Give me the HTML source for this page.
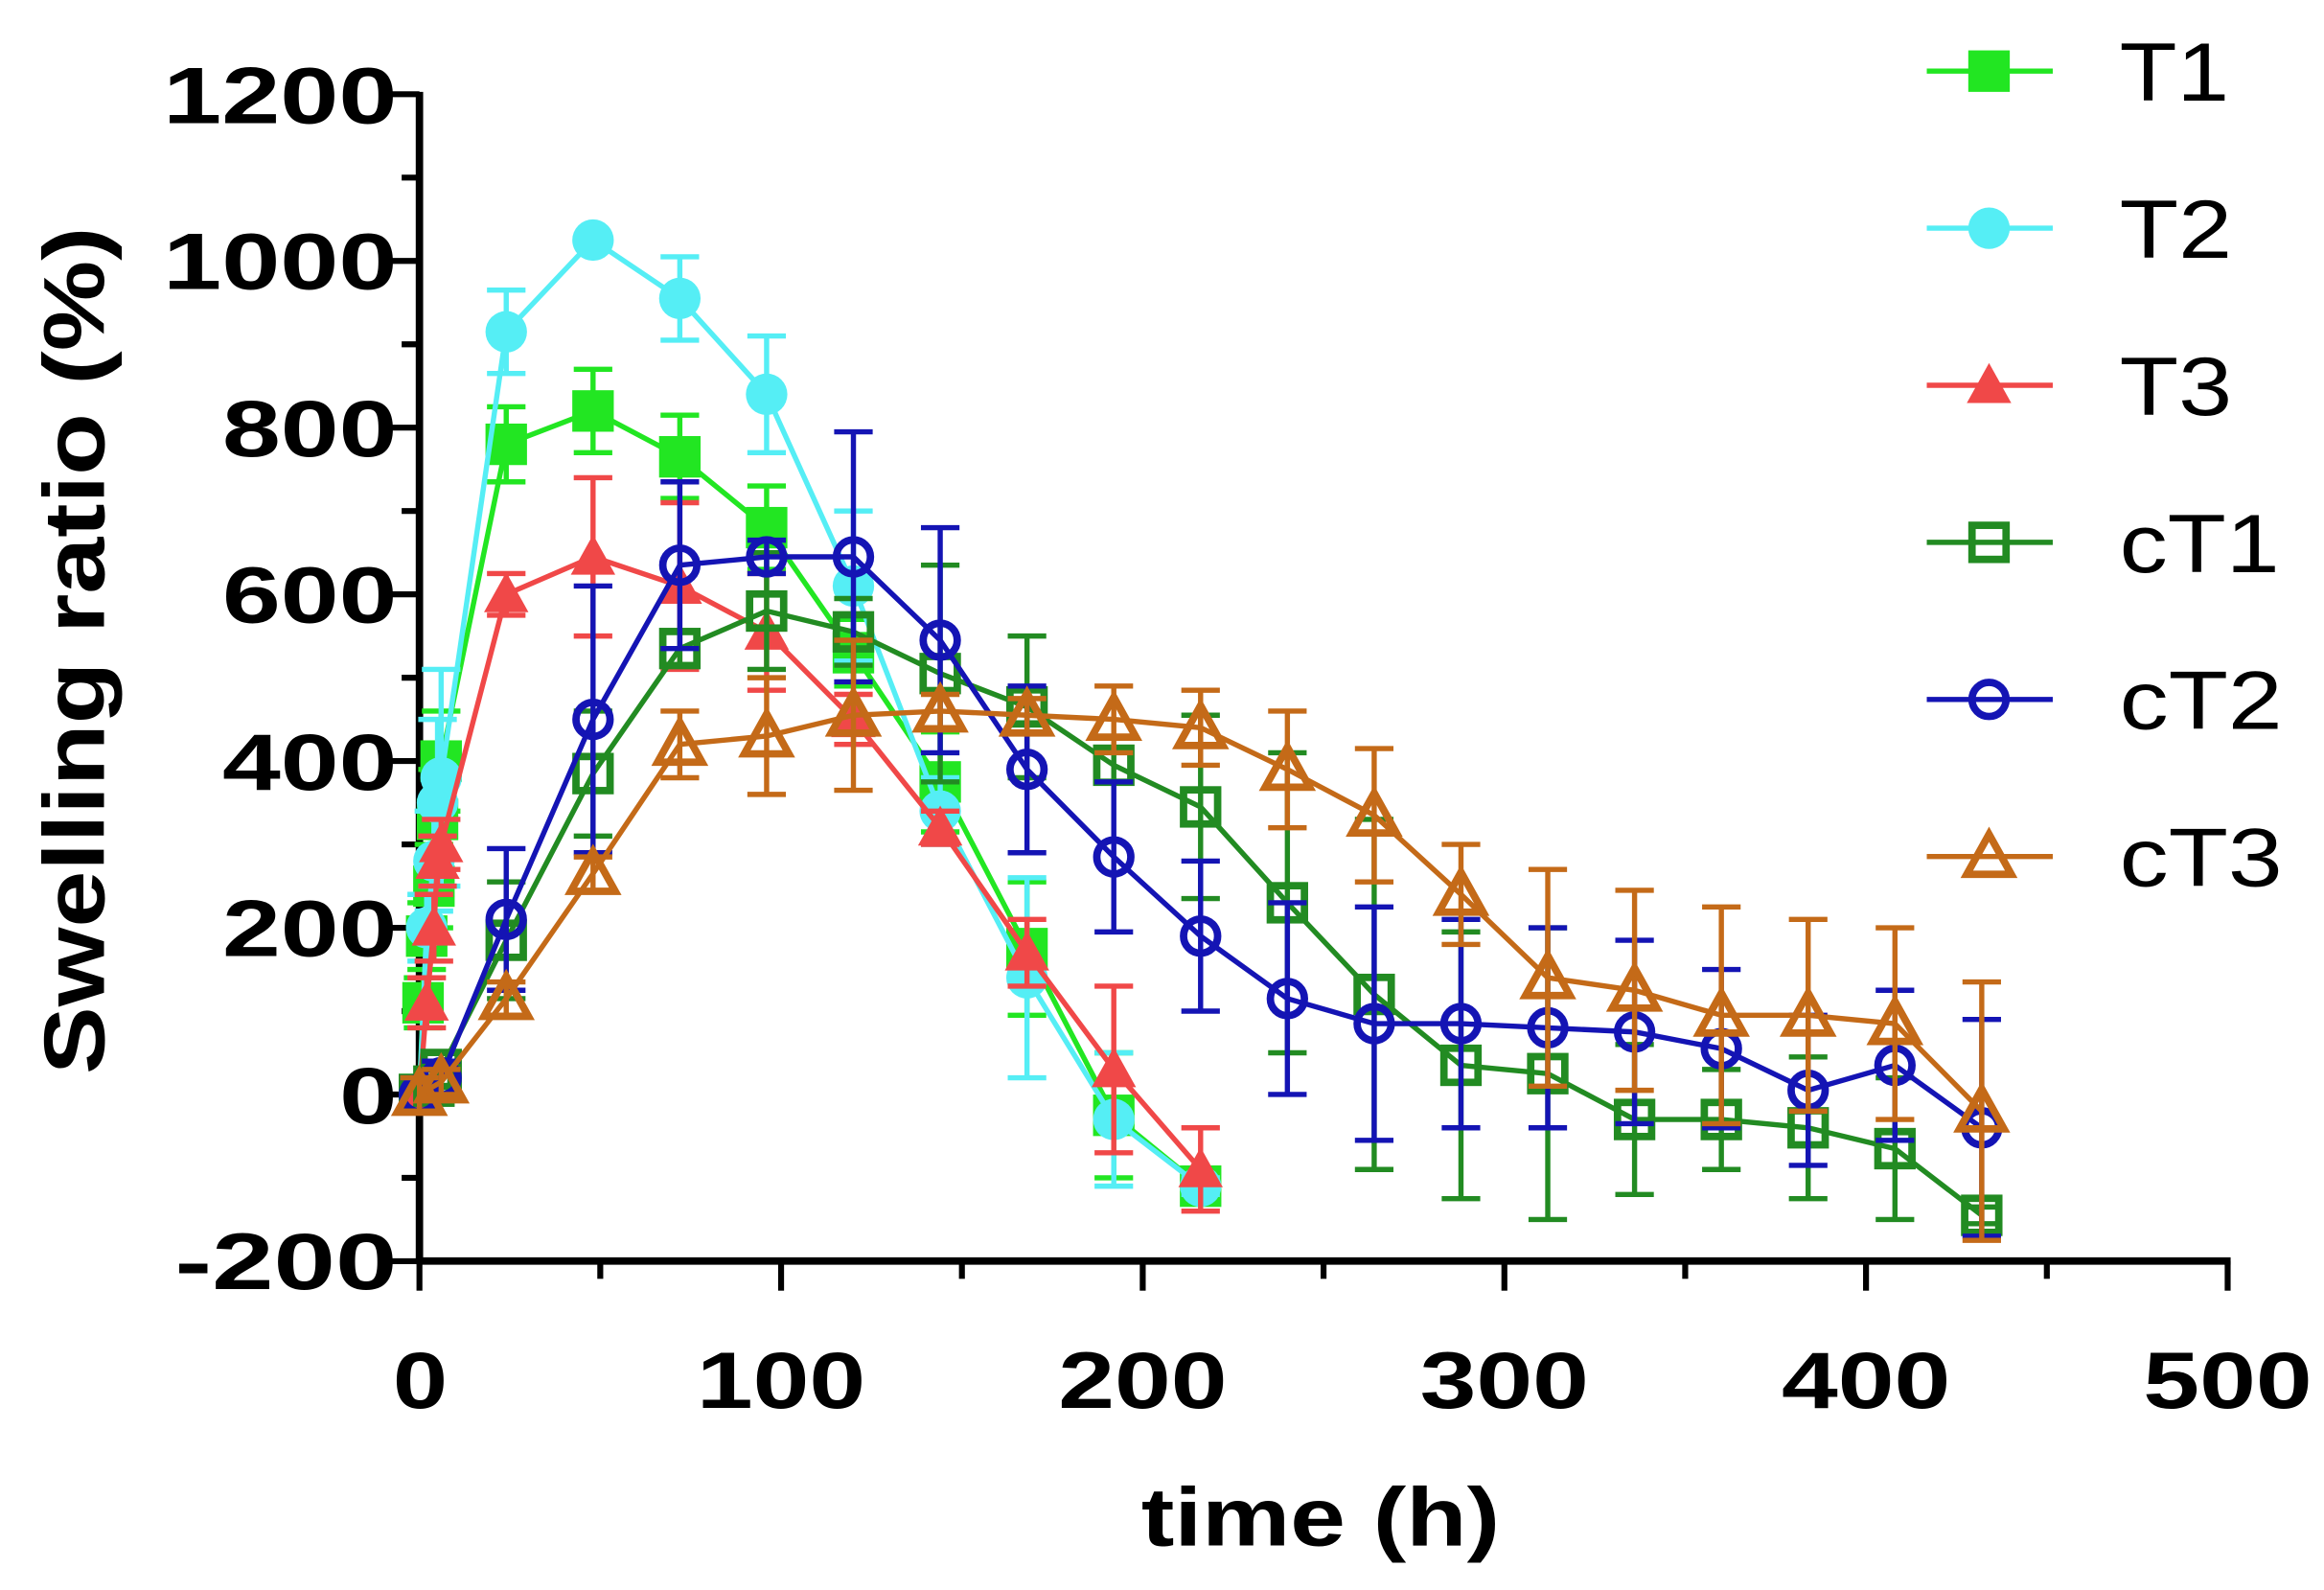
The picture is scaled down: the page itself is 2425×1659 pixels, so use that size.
<!DOCTYPE html>
<html><head><meta charset="utf-8"><style>
html,body{margin:0;padding:0;background:#fff;}
svg{display:block;}
text{font-family:"Liberation Sans",Arial,sans-serif;}
</style></head><body>
<svg id="s" width="2425" height="1659" viewBox="0 0 1568 1073" preserveAspectRatio="none" xmlns="http://www.w3.org/2000/svg">
<g id="axes" stroke="#000" stroke-width="5" fill="none">
<line x1="283" y1="62" x2="283" y2="853"/>
<line x1="281" y1="851" x2="1505" y2="851"/>
</g>
<g id="ticks" stroke="#000" stroke-width="4"></g>
<g font-weight="bold" font-size="54" fill="#000" lengthAdjust="spacingAndGlyphs">
<text x="110" y="83" textLength="158" lengthAdjust="spacingAndGlyphs">1200</text>
<text x="110" y="195" textLength="158" lengthAdjust="spacingAndGlyphs">1000</text>
<text x="150" y="308" textLength="118" lengthAdjust="spacingAndGlyphs">800</text>
<text x="150" y="420" textLength="118" lengthAdjust="spacingAndGlyphs">600</text>
<text x="150" y="533" textLength="118" lengthAdjust="spacingAndGlyphs">400</text>
<text x="150" y="645" textLength="118" lengthAdjust="spacingAndGlyphs">200</text>
<text x="229" y="758" textLength="39" lengthAdjust="spacingAndGlyphs">0</text>
<text x="118" y="870" textLength="150" lengthAdjust="spacingAndGlyphs">-200</text>
</g>
<g font-weight="bold" font-size="54" fill="#000">
<text x="265" y="950" textLength="37" lengthAdjust="spacingAndGlyphs">0</text>
<text x="470" y="950" textLength="114" lengthAdjust="spacingAndGlyphs">100</text>
<text x="714" y="950" textLength="114" lengthAdjust="spacingAndGlyphs">200</text>
<text x="958" y="950" textLength="114" lengthAdjust="spacingAndGlyphs">300</text>
<text x="1202" y="950" textLength="114" lengthAdjust="spacingAndGlyphs">400</text>
<text x="1446" y="950" textLength="114" lengthAdjust="spacingAndGlyphs">500</text>
<text x="770" y="1043" font-size="56" textLength="242" lengthAdjust="spacingAndGlyphs">time (h)</text>
<text transform="translate(70,725) rotate(-90)" font-size="58" textLength="572" lengthAdjust="spacingAndGlyphs">Swelling ratio (%)</text>
</g>
<g id="series"></g>
<g id="legend"></g>
<g font-size="56" fill="#000">
<text x="1430" y="68" textLength="74" lengthAdjust="spacingAndGlyphs">T1</text>
<text x="1430" y="174" textLength="76" lengthAdjust="spacingAndGlyphs">T2</text>
<text x="1430" y="280" textLength="76" lengthAdjust="spacingAndGlyphs">T3</text>
<text x="1430" y="386" textLength="108" lengthAdjust="spacingAndGlyphs">cT1</text>
<text x="1430" y="492" textLength="110" lengthAdjust="spacingAndGlyphs">cT2</text>
<text x="1430" y="598" textLength="110" lengthAdjust="spacingAndGlyphs">cT3</text>
</g>
</svg>
<script>
const NS="http://www.w3.org/2000/svg";
const X=t=>283+t*2.44, Y=v=>738.6-v*0.5625;
function el(p,n,a){const e=document.createElementNS(NS,n);for(const k in a)e.setAttribute(k,a[k]);p.appendChild(e);return e;}
const tk=document.getElementById('ticks');
for(let v=-200;v<=1200;v+=100){const L=(v%200==0)?20:12;el(tk,'line',{x1:283-L,y1:Y(v),x2:283,y2:Y(v)});}
for(let t=0;t<=500;t+=50){const L=(t%100==0)?20:12;el(tk,'line',{x1:X(t),y1:851,x2:X(t),y2:851+L});}
const S=[
{c:'#22e622',m:'sq',f:1,d:[[0,0,20],[1,110,30],[2,190,40],[4,250,50],[5,330,60],[6,400,60],[24,780,45],[48,820,50],[72,765,50],[96,680,50],[120,530,40],[144,375,60],[168,175,80],[192,-25,75],[216,-110,10]]},
{c:'#55eef5',m:'ci',f:1,d:[[0,0,20],[2,200,40],[4,280,60],[5,350,100],[6,380,130],[24,915,50],[48,1025,5],[72,955,50],[96,840,70],[120,610,90],[144,340,40],[168,140,120],[192,-30,80],[216,-110,10]]},
{c:'#f04848',m:'tr',f:1,d:[[0,0,20],[2,110,30],[4,200,40],[5,280,30],[6,300,30],[24,600,25],[48,645,95],[72,610,100],[96,555,70],[120,450,30],[144,320,20],[168,170,40],[192,30,100],[216,-90,50]]},
{c:'#228b22',m:'sq',f:0,d:[[0,0,20],[4,10,20],[6,30,20],[24,185,70],[48,385,75],[72,535,20],[96,580,70],[120,555,40],[144,505,130],[168,465,85],[192,395,20],[216,345,110],[240,230,180],[264,120,210],[288,35,160],[312,25,175],[336,-30,90],[360,-30,60],[384,-40,85],[408,-65,85],[432,-145,10]]},
{c:'#1414b4',m:'ci',f:0,d:[[0,0,20],[6,20,20],[24,210,85],[48,450,160],[72,635,100],[96,645,20],[120,645,150],[144,545,135],[168,390,100],[192,285,90],[216,190,90],[240,115,115],[264,85,140],[288,85,125],[312,80,120],[336,75,110],[360,55,95],[384,5,90],[408,35,90],[432,-40,130]]},
{c:'#c46a18',m:'tr',f:0,d:[[0,0,20],[6,15,15],[24,115,20],[48,265,20],[72,420,40],[96,430,70],[120,455,90],[144,460,20],[168,455,20],[192,450,40],[216,440,45],[240,390,70],[264,335,80],[288,240,60],[312,140,130],[336,125,120],[360,95,130],[384,95,115],[408,85,115],[432,-20,155]]}
];
const g=document.getElementById('series');
function marker(p,s,x,y,r){
 const sw=s.f?0:5, fill=s.f?s.c:'none';
 if(s.m=='sq') el(p,'rect',{x:x-r+sw/2,y:y-r+sw/2,width:2*r-sw,height:2*r-sw,fill,stroke:s.c,'stroke-width':sw});
 else if(s.m=='ci') el(p,'circle',{cx:x,cy:y,r:r-sw/2,fill,stroke:s.c,'stroke-width':sw});
 else el(p,'polygon',{points:`${x},${y-r-1} ${x+r+1},${y+r-2} ${x-r-1},${y+r-2}`,fill,stroke:s.c,'stroke-width':sw,'stroke-linejoin':'miter'});
}
S.forEach(s=>{
 s.d.forEach(([t,v,e])=>{const x=X(t);el(g,'line',{x1:x,y1:Y(v-e),x2:x,y2:Y(v+e),stroke:s.c,'stroke-width':3.5});
  [v-e,v+e].forEach(w=>el(g,'line',{x1:x-13,y1:Y(w),x2:x+13,y2:Y(w),stroke:s.c,'stroke-width':3.5}));});
 el(g,'polyline',{points:s.d.map(([t,v])=>X(t)+','+Y(v)).join(' '),fill:'none',stroke:s.c,'stroke-width':3.5});
 s.d.forEach(([t,v])=>marker(g,s,X(t),Y(v),14));
});
const lg=document.getElementById('legend');
S.forEach((s,i)=>{const y=48+i*106;el(lg,'line',{x1:1300,y1:y,x2:1385,y2:y,stroke:s.c,'stroke-width':3.5});marker(lg,s,1342,y,14);});
</script>
</body></html>
